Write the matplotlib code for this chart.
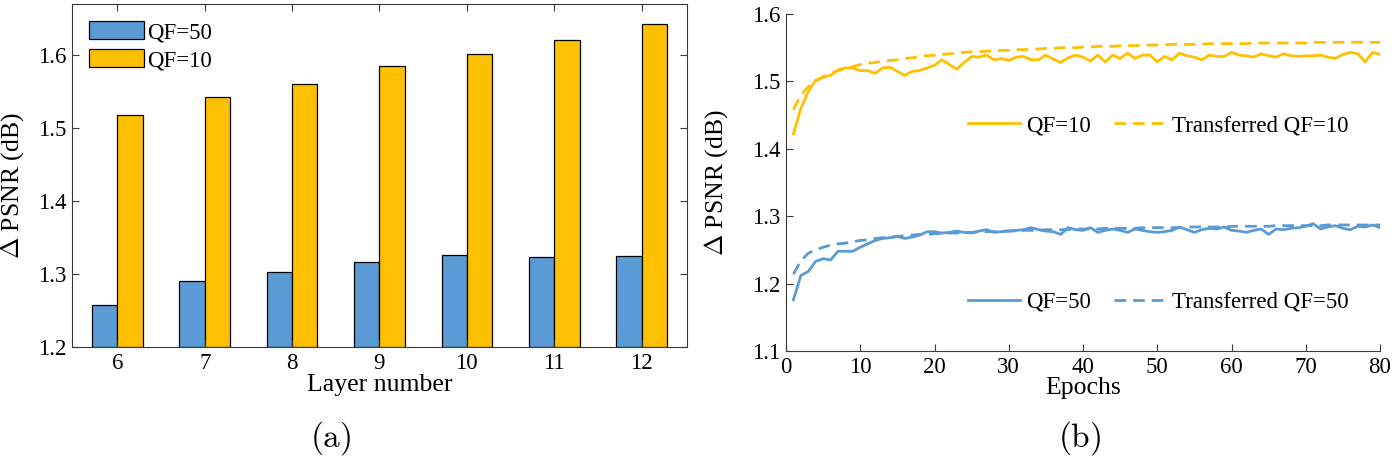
import matplotlib
matplotlib.use("Agg")
import matplotlib.pyplot as plt
import numpy as np

# ---------------- data ----------------
layers = [6, 7, 8, 9, 10, 11, 12]
bar_qf50 = [1.257, 1.290, 1.303, 1.316, 1.326, 1.324, 1.325]
bar_qf10 = [1.518, 1.542, 1.560, 1.585, 1.602, 1.620, 1.642]

epochs = list(range(1, 81))
qf10 = [1.422, 1.460, 1.485, 1.502, 1.506, 1.509, 1.517, 1.520, 1.520, 1.516,
        1.516, 1.512, 1.520, 1.521, 1.515, 1.509, 1.515, 1.516, 1.520, 1.524,
        1.532, 1.525, 1.518, 1.528, 1.537, 1.536, 1.539, 1.532, 1.534, 1.531,
        1.536, 1.537, 1.532, 1.532, 1.539, 1.533, 1.528, 1.535, 1.539, 1.536,
        1.530, 1.539, 1.529, 1.539, 1.534, 1.542, 1.534, 1.539, 1.539, 1.529,
        1.537, 1.532, 1.542, 1.538, 1.536, 1.532, 1.539, 1.537, 1.537, 1.543,
        1.539, 1.538, 1.536, 1.541, 1.538, 1.536, 1.541, 1.538, 1.537, 1.538,
        1.538, 1.539, 1.536, 1.534, 1.540, 1.543, 1.541, 1.529, 1.543, 1.540]
tr_qf10 = [1.458, 1.480, 1.492, 1.500, 1.507, 1.512, 1.516, 1.519, 1.522, 1.525,
           1.527, 1.528, 1.530, 1.531, 1.532, 1.534, 1.535, 1.537, 1.538, 1.539,
           1.540, 1.541, 1.542, 1.543, 1.544, 1.544, 1.545, 1.545, 1.546, 1.546,
           1.547, 1.547, 1.548, 1.548, 1.549, 1.549, 1.550, 1.550, 1.550, 1.551,
           1.551, 1.552, 1.552, 1.552, 1.553, 1.553, 1.553, 1.554, 1.554, 1.554,
           1.554, 1.555, 1.555, 1.555, 1.555, 1.555, 1.556, 1.556, 1.556, 1.556,
           1.556, 1.556, 1.557, 1.557, 1.557, 1.557, 1.557, 1.557, 1.557, 1.557,
           1.558, 1.558, 1.558, 1.558, 1.558, 1.558, 1.558, 1.558, 1.558, 1.558]
qf50 = [1.176, 1.212, 1.218, 1.233, 1.237, 1.235, 1.248, 1.248, 1.248, 1.254,
        1.259, 1.264, 1.267, 1.268, 1.270, 1.267, 1.269, 1.272, 1.277, 1.277,
        1.275, 1.276, 1.278, 1.276, 1.275, 1.278, 1.280, 1.276, 1.277, 1.278,
        1.279, 1.280, 1.283, 1.280, 1.278, 1.277, 1.273, 1.283, 1.280, 1.279,
        1.283, 1.276, 1.279, 1.281, 1.279, 1.276, 1.281, 1.279, 1.277, 1.276,
        1.277, 1.279, 1.284, 1.280, 1.276, 1.280, 1.282, 1.281, 1.284, 1.279,
        1.278, 1.276, 1.279, 1.281, 1.273, 1.281, 1.280, 1.282, 1.283, 1.285,
        1.289, 1.281, 1.284, 1.286, 1.282, 1.280, 1.285, 1.284, 1.287, 1.283]
tr_qf50 = [1.214, 1.234, 1.245, 1.250, 1.254, 1.257, 1.259, 1.260, 1.262, 1.264,
           1.265, 1.267, 1.268, 1.269, 1.270, 1.271, 1.272, 1.273, 1.273, 1.274,
           1.274, 1.275, 1.275, 1.276, 1.276, 1.277, 1.277, 1.277, 1.278, 1.278,
           1.278, 1.279, 1.279, 1.279, 1.280, 1.280, 1.280, 1.280, 1.281, 1.281,
           1.281, 1.281, 1.282, 1.282, 1.282, 1.282, 1.282, 1.283, 1.283, 1.283,
           1.283, 1.283, 1.283, 1.284, 1.284, 1.284, 1.284, 1.284, 1.284, 1.285,
           1.285, 1.285, 1.285, 1.285, 1.285, 1.286, 1.286, 1.286, 1.286, 1.286,
           1.286, 1.286, 1.287, 1.287, 1.287, 1.287, 1.287, 1.287, 1.287, 1.287]

# ---------------- style ----------------
BLUE = "#5B9BD5"
GOLD = "#FFC000"
AXC = "#3a3a3a"
FS = 16.5
LFS = 18.5
plt.rcParams["font.family"] = ["Liberation Serif", "DejaVu Serif"]
plt.rcParams["mathtext.fontset"] = "cm"

W, H = 1394, 463
fig = plt.figure(figsize=(W / 100, H / 100), dpi=100)

def px_axes(x0, y0, x1, y1):
    return fig.add_axes([x0 / W, 1 - y1 / H, (x1 - x0) / W, (y1 - y0) / H])

# ---------------- (a) bar chart ----------------
ax1 = px_axes(72, 4, 687, 347)
x = np.array(layers, dtype=float)
bw = 0.29
ax1.bar(x - bw / 2, np.array(bar_qf50) - 1.2, bw, bottom=1.2, color=BLUE,
        edgecolor="black", linewidth=0.9, label="QF=50")
ax1.bar(x + bw / 2, np.array(bar_qf10) - 1.2, bw, bottom=1.2, color=GOLD,
        edgecolor="black", linewidth=0.9, label="QF=10")
ax1.set_xlim(5.48, 12.52)
ax1.set_ylim(1.2, 1.67)
ax1.set_xticks(layers)
ax1.set_yticks([1.2, 1.3, 1.4, 1.5, 1.6])
ax1.set_yticklabels(["1.2", "1.3", "1.4", "1.5", "1.6"])
ax1.tick_params(direction="in", length=5, width=0.8, top=True, right=True,
                labelsize=FS, colors=AXC, labelcolor="black", pad=4)
for s in ax1.spines.values():
    s.set_color(AXC)
    s.set_linewidth(0.8)
ax1.set_xlabel("Layer number", fontsize=LFS, va="top")
ax1.xaxis.set_label_coords(0.5, -0.078)
ax1.set_ylabel(r"$\Delta$ PSNR (dB)", fontsize=LFS)
ax1.yaxis.set_label_coords(-0.074, 0.47)
ax1.legend(loc="upper left", bbox_to_anchor=(0.027, 0.95), frameon=False,
           fontsize=FS, handlelength=2.4, handleheight=0.85,
           handletextpad=0.15, labelspacing=0.25, borderpad=0,
           borderaxespad=0)

# ---------------- (b) line chart ----------------
ax2 = px_axes(786, 14, 1380, 351)
dash = (0, (4.2, 2.5))
l1, = ax2.plot(epochs, qf10, color=GOLD, lw=2.0, label="QF=10")
l2, = ax2.plot(epochs, tr_qf10, color=GOLD, lw=2.0, ls=dash, label="Transferred QF=10")
l3, = ax2.plot(epochs, qf50, color=BLUE, lw=2.0, label="QF=50")
l4, = ax2.plot(epochs, tr_qf50, color=BLUE, lw=2.0, ls=dash, label="Transferred QF=50")
ax2.set_xlim(0, 80)
ax2.set_ylim(1.1, 1.6)
ax2.set_xticks(range(0, 81, 10))
ax2.set_yticks([1.1, 1.2, 1.3, 1.4, 1.5, 1.6])
ax2.set_yticklabels(["1.1", "1.2", "1.3", "1.4", "1.5", "1.6"])
ax2.tick_params(direction="in", length=5, width=0.8, labelsize=FS,
                colors=AXC, labelcolor="black", pad=4)
for side in ("top", "right"):
    ax2.spines[side].set_visible(False)
for side in ("left", "bottom"):
    ax2.spines[side].set_color(AXC)
    ax2.spines[side].set_linewidth(0.8)
ax2.set_xlabel("Epochs", fontsize=LFS, va="top")
ax2.xaxis.set_label_coords(0.5, -0.078)
ax2.set_ylabel(r"$\Delta$ PSNR (dB)", fontsize=LFS)
ax2.yaxis.set_label_coords(-0.094, 0.5)

kw = dict(frameon=False, fontsize=FS, ncol=2, handlelength=2.3,
          handletextpad=0.25, columnspacing=1.0, borderpad=0, borderaxespad=0,
          loc="center left")
legA = ax2.legend(handles=[l1, l2], bbox_to_anchor=(0.306, 0.668), **kw)
ax2.add_artist(legA)
ax2.legend(handles=[l3, l4], bbox_to_anchor=(0.306, 0.145), **kw)

# ---------------- panel labels ----------------
fig.text(331 / W, 1 - 438 / H, r"$\mathrm{(a)}$", fontsize=24, ha="center", va="center")
fig.text(1080 / W, 1 - 438 / H, r"$\mathrm{(b)}$", fontsize=24, ha="center", va="center")

fig.savefig("out.png", dpi=100)
